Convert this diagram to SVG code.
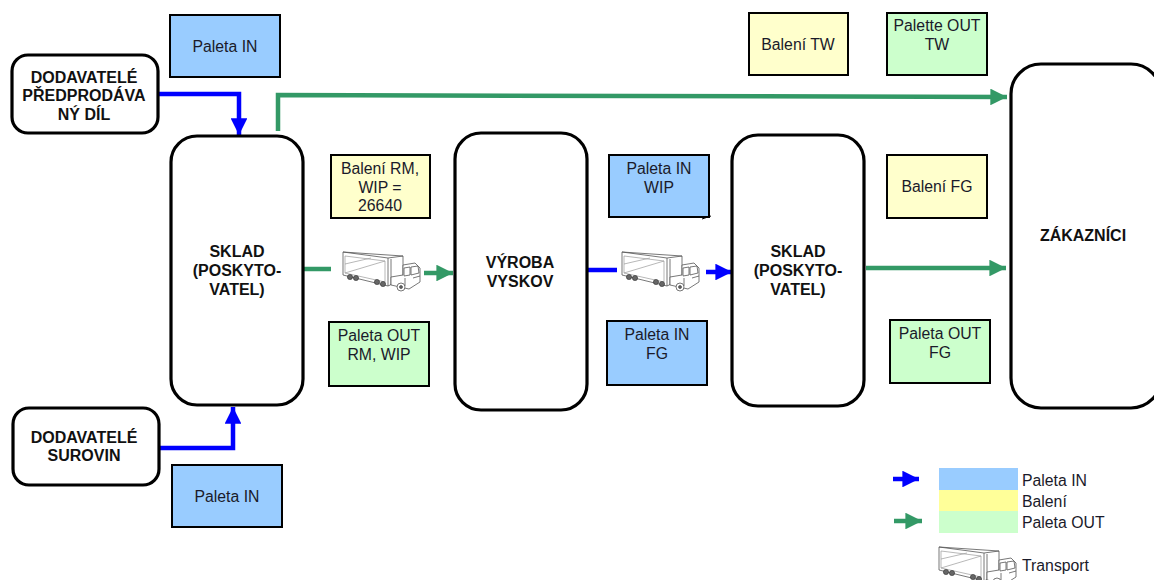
<svg xmlns="http://www.w3.org/2000/svg" width="1154" height="580" viewBox="0 0 1154 580">
<style>
text{font-family:"Liberation Sans",Arial,sans-serif;font-size:15.8px;fill:#1a1a2a;text-anchor:middle;transform:translate(0,1px)}
text.b{font-weight:bold;font-size:16px;fill:#111}
text.l{text-anchor:start}
.node{fill:#fff;stroke:#000;stroke-width:3.2}
.box{stroke:#000;stroke-width:2}
.in{fill:#99ccff}.bal{fill:#ffffcc}.out{fill:#ccffcc}
.blue{fill:none;stroke:#0000ff;stroke-width:4.5}
.green{fill:none;stroke:#339966;stroke-width:4.5}
.t{fill:#fff;stroke:#555;stroke-width:.8;stroke-linejoin:round}
.tl{fill:none;stroke:#999;stroke-width:.7}
.td{fill:#666;stroke:#333;stroke-width:.6}
</style>
<defs>
<marker id="ab" viewBox="0 0 10 10" refX="10" refY="5" markerWidth="3.7" markerHeight="3.7" orient="auto"><path d="M0 0L10 5L0 10z" fill="#0000ff"/></marker>
<marker id="ag" viewBox="0 0 10 10" refX="10" refY="5" markerWidth="3.7" markerHeight="3.7" orient="auto"><path d="M0 0L10 5L0 10z" fill="#339966"/></marker>
<symbol id="truck" viewBox="0 0 80 44" overflow="visible">
<path class="t" d="M2 4L62 8L62 31L47 38L2 27z"/>
<path class="t" d="M47 10L62 8M47 10L47 38M2 4L47 10M50 11L50 37"/>
<path class="tl" d="M4 8L44 13L44 34L4 25zM4 25L44 13M4 16L30 10"/>
<path class="t" d="M62 17L74 15L79 20L79 34L68 41L50 37L50 29L62 27z"/>
<path class="t" d="M63 20L69 19L69 27L63 28zM70 19L77 18L78 25L70 27zM64 30L64 38M72 30L79 28"/>
<circle class="td" cx="9" cy="29" r="2.6"/><circle class="td" cx="15" cy="30" r="2.6"/>
<circle class="td" cx="36" cy="34" r="2.6"/><circle class="td" cx="42" cy="36" r="2.6"/>
<circle class="t" cx="60" cy="39" r="4"/><circle class="td" cx="60" cy="39" r="1.5"/>
</symbol>
</defs>

<g id="connectors">
<path class="blue" d="M158 94H239V135" marker-end="url(#ab)"/>
<path class="blue" d="M160 448H233V407" marker-end="url(#ab)"/>
<path class="green" d="M278 131V95L1007 97" marker-end="url(#ag)"/>
<path class="green" d="M302 269H331"/>
<path class="green" d="M424 273H453" marker-end="url(#ag)"/>
<path class="blue" d="M587 270H617"/>
<path class="blue" d="M706 272H732" marker-end="url(#ab)"/>
<path class="green" d="M866 268H1006" marker-end="url(#ag)"/>
</g>

<g id="n-dodavatele-predprodava"><rect class="node" x="12" y="55" width="146" height="78" rx="16"/><text class="b" x="84" y="82">DODAVATELÉ</text><text class="b" x="84" y="100">PŘEDPRODÁVA</text><text class="b" x="84" y="119">NÝ DÍL</text></g>
<g id="n-dodavatele-surovin"><rect class="node" x="13" y="408" width="146" height="77" rx="16"/><text class="b" x="84" y="442">DODAVATELÉ</text><text class="b" x="84" y="460">SUROVIN</text></g>
<g id="n-sklad1"><rect class="node" x="171" y="136" width="132" height="269" rx="26"/><text class="b" x="237" y="256">SKLAD</text><text class="b" x="237" y="275">(POSKYTO-</text><text class="b" x="237" y="294">VATEL)</text></g>
<g id="n-vyroba"><rect class="node" x="455" y="133" width="132" height="277" rx="26"/><text class="b" x="520" y="267">VÝROBA</text><text class="b" x="520" y="286">VYSKOV</text></g>
<g id="n-sklad2"><rect class="node" x="732" y="135" width="132" height="271" rx="26"/><text class="b" x="798" y="256">SKLAD</text><text class="b" x="798" y="275">(POSKYTO-</text><text class="b" x="798" y="294">VATEL)</text></g>
<g id="n-zakaznici"><rect class="node" x="1011" y="64" width="150" height="344" rx="30"/><text class="b" x="1083" y="240">ZÁKAZNÍCI</text></g>

<g id="b-paleta-in-1"><rect class="box in" x="170" y="15" width="110" height="62"/><text x="225" y="51">Paleta IN</text></g>
<g id="b-paleta-in-2"><rect class="box in" x="172" y="465" width="110" height="62"/><text x="227" y="501">Paleta IN</text></g>
<g id="b-baleni-rm"><rect class="box bal" x="331" y="155" width="99" height="63"/><text x="380" y="173">Balení RM,</text><text x="380" y="192">WIP =</text><text x="380" y="210">26640</text></g>
<g id="b-paleta-out-rm"><rect class="box out" x="329" y="322" width="100" height="64"/><text x="379" y="340">Paleta OUT</text><text x="379" y="359">RM, WIP</text></g>
<g id="b-paleta-in-wip"><rect class="box in" x="609" y="155" width="100" height="62"/><text x="659" y="173">Paleta IN</text><text x="659" y="192">WIP</text><path d="M702 219L711 216" stroke="#000" stroke-width="1" fill="none"/></g>
<g id="b-paleta-in-fg"><rect class="box in" x="607" y="321" width="100" height="64"/><text x="657" y="339">Paleta IN</text><text x="657" y="358">FG</text></g>
<g id="b-baleni-tw"><rect class="box bal" x="749" y="13" width="99" height="62"/><text x="798" y="49">Balení TW</text></g>
<g id="b-palette-out-tw"><rect class="box out" x="887" y="13" width="100" height="62"/><text x="937" y="30">Palette OUT</text><text x="937" y="49">TW</text></g>
<g id="b-baleni-fg"><rect class="box bal" x="887" y="155" width="100" height="63"/><text x="937" y="191">Balení FG</text></g>
<g id="b-paleta-out-fg"><rect class="box out" x="890" y="320" width="100" height="63"/><text x="940" y="338">Paleta OUT</text><text x="940" y="357">FG</text></g>

<g id="truck-1"><use href="#truck" x="341" y="248" width="80" height="44"/></g>
<g id="truck-2"><use href="#truck" x="620" y="248" width="80" height="44"/></g>

<g id="legend">
<rect x="939" y="468" width="79" height="22" fill="#99ccff"/>
<rect x="939" y="490" width="79" height="21" fill="#ffff99"/>
<rect x="939" y="511" width="79" height="22" fill="#ccffcc"/>
<path class="blue" d="M893 479H919" marker-end="url(#ab)"/>
<path class="green" d="M894 521H922" marker-end="url(#ag)"/>
<text class="l" x="1022" y="485">Paleta IN</text>
<text class="l" x="1022" y="506">Balení</text>
<text class="l" x="1022" y="527">Paleta OUT</text>
<text class="l" x="1022" y="570">Transport</text>
<use href="#truck" x="937" y="543" width="80" height="44"/>
</g>
</svg>
